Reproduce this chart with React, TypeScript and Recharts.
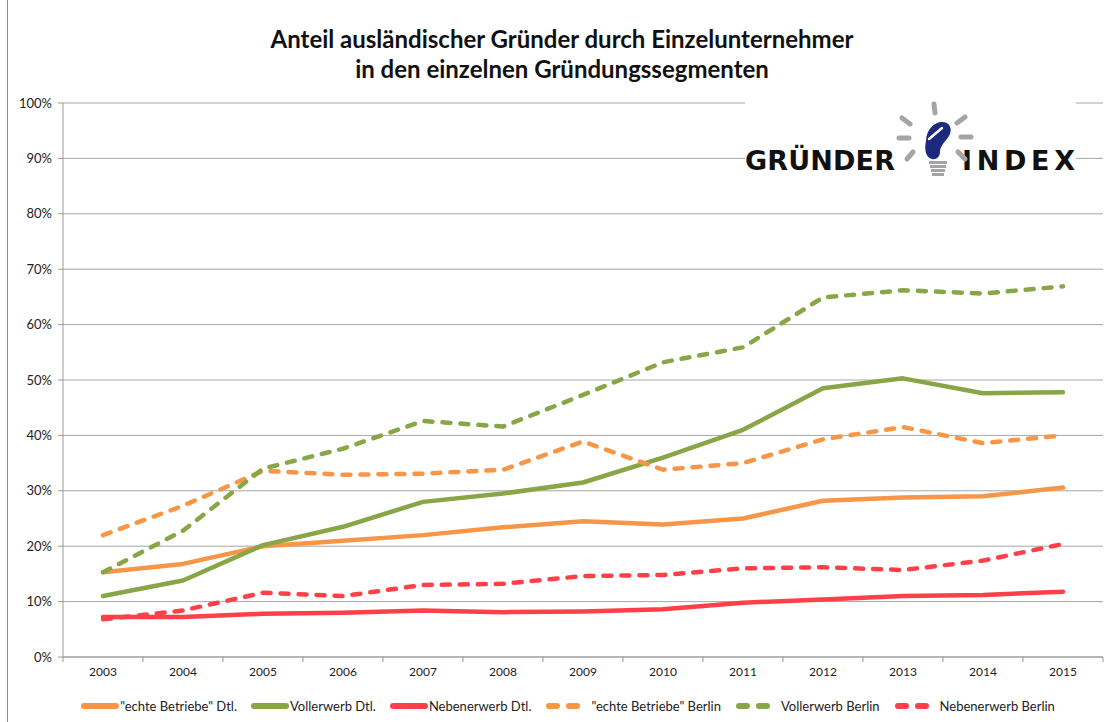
import { LineChart, Line, XAxis, YAxis, CartesianGrid } from "recharts";

const years = ["2003", "2004", "2005", "2006", "2007", "2008", "2009", "2010", "2011", "2012", "2013", "2014", "2015"];

// Anteile in Prozent
const echteDtl = [15.3, 16.8, 20.0, 21.0, 22.0, 23.4, 24.5, 23.9, 25.0, 28.2, 28.8, 29.0, 30.6];
const vollDtl = [11.0, 13.8, 20.2, 23.5, 28.0, 29.5, 31.5, 36.0, 41.0, 48.5, 50.3, 47.6, 47.8];
const nebenDtl = [7.2, 7.2, 7.8, 8.0, 8.4, 8.1, 8.2, 8.6, 9.8, 10.4, 11.0, 11.2, 11.8];
const echteBerlin = [22.0, 27.3, 33.6, 32.9, 33.1, 33.8, 38.9, 33.8, 35.0, 39.3, 41.5, 38.6, 40.0];
const vollBerlin = [15.3, 22.8, 34.0, 37.6, 42.6, 41.6, 47.3, 53.2, 55.9, 64.9, 66.2, 65.6, 66.9];
const nebenBerlin = [6.8, 8.4, 11.6, 11.0, 13.0, 13.2, 14.6, 14.8, 16.0, 16.2, 15.7, 17.4, 20.4];

const yTicks = [0, 10, 20, 30, 40, 50, 60, 70, 80, 90, 100];

const ORANGE = "#F79646";
const GREEN = "#88A646";
const RED = "#FF4049";

const series = [
  { key: "echteDtl", name: '"echte Betriebe" Dtl.', values: echteDtl, color: ORANGE, dashed: false },
  { key: "vollDtl", name: "Vollerwerb Dtl.", values: vollDtl, color: GREEN, dashed: false },
  { key: "nebenDtl", name: "Nebenerwerb Dtl.", values: nebenDtl, color: RED, dashed: false },
  { key: "echteBerlin", name: '"echte Betriebe" Berlin', values: echteBerlin, color: ORANGE, dashed: true },
  { key: "vollBerlin", name: "Vollerwerb Berlin", values: vollBerlin, color: GREEN, dashed: true },
  { key: "nebenBerlin", name: "Nebenerwerb Berlin", values: nebenBerlin, color: RED, dashed: true },
];

const data = years.map((year, i) => {
  const row: Record<string, string | number> = { year };
  series.forEach((s) => {
    row[s.key] = s.values[i];
  });
  return row;
});

const FONT = "Lato, 'Open Sans', sans-serif";

function YearTick(props: any) {
  const { x, y, payload, index, visibleTicksCount } = props;
  const half = payload?.offset || 40;
  return (
    <g>
      <line x1={x - half} x2={x - half} y1={y} y2={y + 5} stroke="#999" />
      {index === visibleTicksCount - 1 && (
        <line x1={x + half} x2={x + half} y1={y} y2={y + 5} stroke="#999" />
      )}
      <text x={x} y={y + 19} textAnchor="middle" fontSize={12} fontFamily={FONT} fill="#222">
        {payload.value}
      </text>
    </g>
  );
}

function LegendSample({ color, dashed }: { color: string; dashed: boolean }) {
  return (
    <svg width={38} height={10} style={{ display: "block" }}>
      {dashed ? (
        <>
          <line x1={4} x2={12} y1={5} y2={5} stroke={color} strokeWidth={6} strokeLinecap="round" />
          <line x1={24} x2={32} y1={5} y2={5} stroke={color} strokeWidth={6} strokeLinecap="round" />
        </>
      ) : (
        <line x1={3} x2={35} y1={5} y2={5} stroke={color} strokeWidth={6} strokeLinecap="round" />
      )}
    </svg>
  );
}

function Logo() {
  const rays = [
    [934, 104, 935, 113],
    [902, 118, 910, 124],
    [965, 117, 957, 123],
    [899, 138, 909, 138],
    [961, 137, 971, 137],
    [913, 152, 907, 159],
    [958, 152, 965, 159],
  ];
  const logoFont = "'DejaVu Sans', sans-serif";
  return (
    <svg width={1106} height={722} style={{ position: "absolute", left: 0, top: 0, pointerEvents: "none" }}>
      <rect x={745} y={95} width={331} height={88} fill="#fff" />
      <text x={745} y={170} fontSize={27} fontWeight={700} fontFamily={logoFont} fill="#111" textLength={150} lengthAdjust="spacing">
        GRÜNDER
      </text>
      <text x={962} y={170} fontSize={27} fontWeight={700} fontFamily={logoFont} fill="#111" textLength={113} lengthAdjust="spacing">
        INDEX
      </text>
      {rays.map((r, i) => (
        <line key={i} x1={r[0]} y1={r[1]} x2={r[2]} y2={r[3]} stroke="#A5A5A5" strokeWidth={5} strokeLinecap="round" />
      ))}
      <path
        d="M926 141 C926 130 934 122 942 122 C950 122 953 129 949 136 C945 142 940 146 940 152 C940 157 936 160 932 159 C926 158 924 150 926 141 Z"
        fill="#1B2A7E"
      />
      <line x1={929} y1={139} x2={942} y2={128} stroke="#fff" strokeWidth={2.5} strokeLinecap="round" />
      {[161, 165, 169, 173].map((yy, i) => (
        <rect key={yy} x={929 + i} y={yy} width={18 - 2 * i} height={3} fill="#A5A5A5" />
      ))}
    </svg>
  );
}

export default function App() {
  return (
    <div style={{ position: "absolute", left: 0, top: 0, width: 1106, height: 722, background: "#fff", fontFamily: FONT }}>
      <div style={{ position: "absolute", left: 7, top: 0, width: 1, height: 722, background: "#8c8c8c" }} />
      <div
        style={{
          position: "absolute",
          left: 18,
          top: 24,
          width: 1088,
          textAlign: "center",
          fontSize: 24,
          fontWeight: 700,
          lineHeight: "30px",
          color: "#111",
        }}
      >
        Anteil ausländischer Gründer durch Einzelunternehmer
        <br />
        in den einzelnen Gründungssegmenten
      </div>
      <LineChart width={1106} height={722} data={data} margin={{ top: 103, right: 3, bottom: 35, left: 8 }}>
        <CartesianGrid vertical={false} stroke="#A6A6A6" />
        <XAxis
          dataKey="year"
          scale="band"
          height={30}
          tickLine={false}
          tickSize={0}
          tickMargin={0}
          interval={0}
          axisLine={{ stroke: "#999" }}
          tick={<YearTick />}
        />
        <YAxis
          width={55}
          domain={[0, 100]}
          ticks={yTicks}
          interval={0}
          tickFormatter={(v) => `${v}%`}
          axisLine={{ stroke: "#999" }}
          tickLine={{ stroke: "#999" }}
          tickSize={5}
          tickMargin={6}
          tick={{ fontSize: 13, fontFamily: FONT, fill: "#222" }}
        />
        {series.map((s) => (
          <Line
            key={s.key}
            type="linear"
            dataKey={s.key}
            name={s.name}
            stroke={s.color}
            strokeWidth={4.5}
            strokeDasharray={s.dashed ? "8 10" : undefined}
            strokeLinecap="round"
            strokeLinejoin="round"
            dot={false}
            activeDot={false}
            isAnimationActive={false}
          />
        ))}
      </LineChart>
      <Logo />
      <div
        style={{
          position: "absolute",
          left: 0,
          top: 698,
          width: 1136,
          display: "flex",
          justifyContent: "center",
          alignItems: "center",
          gap: 14,
          fontSize: 13,
          color: "#222",
        }}
      >
        {series.map((s) => (
          <div key={s.key} style={{ display: "flex", alignItems: "center", gap: s.dashed ? 8 : 1 }}>
            <LegendSample color={s.color} dashed={s.dashed} />
            <span>{s.name}</span>
          </div>
        ))}
      </div>
    </div>
  );
}
